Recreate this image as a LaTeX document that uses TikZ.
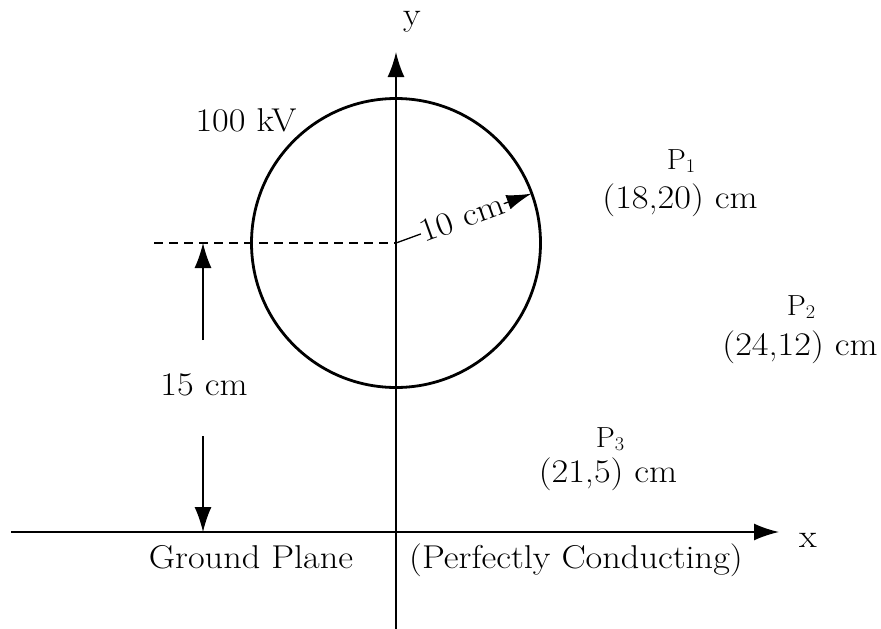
\documentclass[tikz,border=0pt]{standalone}
\usetikzlibrary{arrows.meta}
\newcommand{\wtxt}[1]{\scalebox{1.1}[1]{#1}}
\newcommand{\ptxt}[1]{\scalebox{0.92}[0.88]{P\raisebox{-4pt}{\fontsize{22}{26}\selectfont #1}}}
\begin{document}
\begin{tikzpicture}[x=1pt,y=-1pt,
  lbl/.style={font=\fontsize{33}{38}\selectfont, inner sep=0pt, anchor=base},
  arr/.style={-{Latex[length=25pt,width=17pt]}},
  axis/.style={line width=1.8pt, arr}]
\useasboundingbox (0,0) rectangle (881,629);
% coordinates
\coordinate (O) at (396,243);
\coordinate (xs) at (11,532);
\coordinate (xe) at (779,532);
\coordinate (ys) at (396,629);
\coordinate (ye) at (396,52);
\coordinate (ds) at (154,243);
% axes
\draw[axis] (xs) -- (xe);
\draw[axis] (ys) -- (ye);
\node[lbl] (xl) at (808,547) {\wtxt{x}};
\node[lbl] (yl) at (412,25) {\wtxt{y}};
% sphere
\node[draw, line width=2.8pt, circle, minimum size=289pt, inner sep=0pt] (C) at (O) {};
\node[lbl] (kv) at (246,131) {\wtxt{100 kV}};
% dashed center line
\draw[line width=1.3pt, dash pattern=on 9pt off 6pt] (ds) -- (O);
% radius arrow
\coordinate (rt) at (531.5,193.6);
\draw[line width=1.3pt, -{Latex[length=25pt,width=15pt]}] (O) -- (rt);
\node[font=\fontsize{33}{38}\selectfont, fill=white, rotate=20, inner sep=0.5pt] (rl) at (462,218) {\wtxt{10 cm}};
% 15 cm dimension
\coordinate (d1) at (203,243);
\coordinate (d2) at (203,340);
\coordinate (d3) at (203,436);
\coordinate (d4) at (203,532);
\draw[line width=1.3pt, arr] (d2) -- (d1);
\draw[line width=1.3pt, arr] (d3) -- (d4);
\node[lbl] (fl) at (204,395) {\wtxt{15 cm}};
% points
\node[lbl] (p1) at (681,169) {\ptxt{1}};
\node[lbl] (c1) at (680,208) {\wtxt{(18,20) cm}};
\node[lbl] (p2) at (801,315) {\ptxt{2}};
\node[lbl] (c2) at (800,355) {\wtxt{(24,12) cm}};
\node[lbl] (p3) at (610,447) {\ptxt{3}};
\node[lbl] (c3) at (608,482) {\wtxt{(21,5) cm}};
% ground plane labels
\node[lbl] (gp) at (251,568) {\wtxt{Ground Plane}};
\node[lbl] (pc) at (576,568) {\wtxt{(Perfectly Conducting)}};
\end{tikzpicture}
\end{document}
